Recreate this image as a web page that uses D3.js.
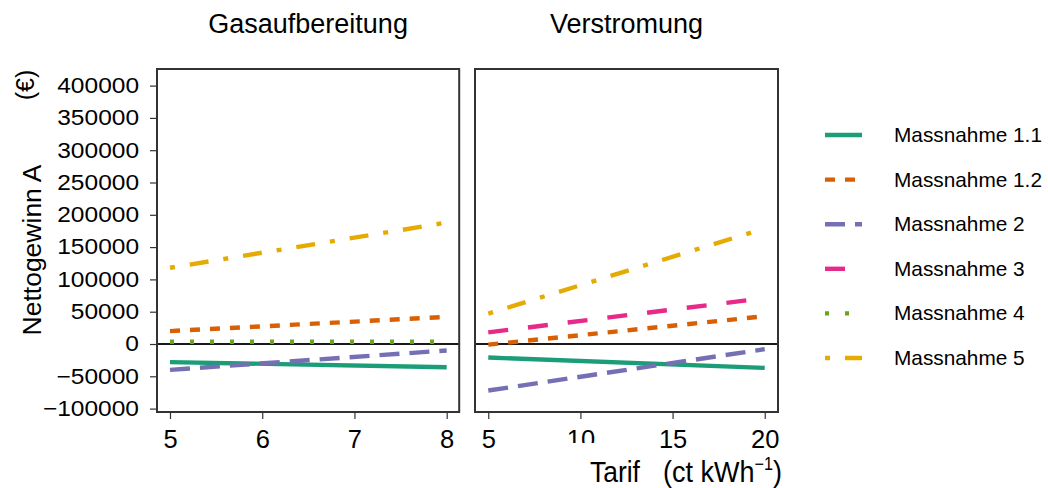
<!DOCTYPE html>
<html>
<head>
<meta charset="utf-8">
<script src="https://cdn.jsdelivr.net/npm/d3@7"></script>
<style>
  html, body { margin: 0; padding: 0; background: #fff; }
  svg text { font-family: "Liberation Sans", Arial, sans-serif; fill: #000; }
</style>
</head>
<body>
<svg id="chart" width="1048" height="488"></svg>
<script>
// ---- data ----
const seriesNames = ["Massnahme 1.1", "Massnahme 1.2", "Massnahme 2", "Massnahme 3", "Massnahme 4", "Massnahme 5"];
const seriesColors = ["#1B9E77", "#D95F02", "#7570B3", "#E7298A", "#66A61E", "#E6AB02"];
const seriesDash = ["", "10,10", "20,10", "20,20", "4,16", "5,15,19,15"];

const panelTitles = ["Gasaufbereitung", "Verstromung"];
const tarifGas = [5, 8];
const tarifStrom = [5, 20];
// Nettogewinn A (€) at the first and last tariff, per Massnahme (null = not shown)
const gasM11 = [-28000, -36000];
const gasM12 = [20000, 42000];
const gasM2 = [-40000, -10000];
const gasM3 = null;
const gasM4 = [3500, 3500];
const gasM5 = [118000, 188000];
const stromM11 = [-21000, -37000];
const stromM12 = [-1000, 43000];
const stromM2 = [-72000, -8000];
const stromM3 = [18000, 71000];
const stromM4 = null;
const stromM5 = [47000, 179000];

const yTicks = [-100000, -50000, 0, 50000, 100000, 150000, 200000, 250000, 300000, 350000, 400000];
const xTicksGas = [5, 6, 7, 8];
const xTicksStrom = [5, 10, 15, 20];

// ---- layout ----
const svg = d3.select("#chart");
const pTop = 69, pBottom = 412;
const y = d3.scaleLinear().domain([-104800, 425700]).range([411.7, 69]);

const panels = [
  { title: panelTitles[0], x: d3.scaleLinear().domain([4.859, 8.1356]).range([157, 459.2]),
    tarif: tarifGas, ticks: xTicksGas, values: [gasM11, gasM12, gasM2, gasM3, gasM4, gasM5] },
  { title: panelTitles[1], x: d3.scaleLinear().domain([4.28, 20.72]).range([475, 778]),
    tarif: tarifStrom, ticks: xTicksStrom, values: [stromM11, stromM12, stromM2, stromM3, stromM4, stromM5] }
];

panels.forEach((p, pi) => {
  const [x0, x1] = p.x.range();
  const g = svg.append("g");
  g.append("line").attr("x1", x0).attr("x2", x1).attr("y1", y(0)).attr("y2", y(0))
    .attr("stroke", "#1a1a1a").attr("stroke-width", 2.2);
  const line = d3.line().x(d => p.x(d[0])).y(d => y(d[1]));
  p.values.forEach((vals, si) => {
    if (!vals) return;
    const pts = p.tarif.map((t, i) => [t, vals[i]]);
    g.append("path").attr("d", line(pts)).attr("fill", "none")
      .attr("stroke", seriesColors[si]).attr("stroke-width", 4.4)
      .attr("stroke-dasharray", seriesDash[si] || null)
      .attr("stroke-linecap", "butt");
  });
  g.append("rect").attr("x", x0).attr("y", pTop).attr("width", x1 - x0).attr("height", pBottom - pTop)
    .attr("fill", "none").attr("stroke", "#333").attr("stroke-width", 2);
  const xa = svg.append("g").attr("transform", `translate(0,${pBottom})`)
    .call(d3.axisBottom(p.x).tickValues(p.ticks).tickSize(7).tickPadding(11).tickFormat(d3.format("d")));
  xa.select(".domain").remove();
  xa.selectAll(".tick line").attr("stroke", "#333").attr("stroke-width", 1.2);
  xa.selectAll("text").attr("font-size", 25.5).attr("fill", "#000");
  svg.append("text").attr("x", (x0 + x1) / 2).attr("y", 33).attr("text-anchor", "middle")
    .attr("font-size", 27).text(p.title);
});

const ya = svg.append("g").attr("transform", `translate(157,0)`)
  .call(d3.axisLeft(y).tickValues(yTicks).tickSize(7).tickPadding(11).tickFormat(d3.format("d")));
ya.select(".domain").remove();
ya.selectAll(".tick line").attr("stroke", "#333").attr("stroke-width", 1.2);
ya.selectAll("text").attr("font-size", 21.5).attr("fill", "#000")
  .attr("x", -18 / 1.14).attr("transform", "scale(1.14,1)");

svg.append("text").attr("transform", "translate(41,250) rotate(-90)").attr("text-anchor", "middle")
  .attr("font-size", 26.5).text("Nettogewinn A");
svg.append("text").attr("transform", "translate(34,85) rotate(-90)").attr("text-anchor", "middle")
  .attr("font-size", 25).text("(€)");

svg.append("rect").attr("x", 555).attr("y", 443).attr("width", 90).attr("height", 45).attr("fill", "#fff");
const xt = svg.append("g").attr("transform", "translate(590,482) scale(0.88,1)");
xt.append("text").attr("x", 0).attr("y", 0).attr("font-size", 30).text("Tarif");
const xt2 = svg.append("g").attr("transform", "translate(663,482) scale(0.9,1)");
const t2 = xt2.append("text").attr("x", 0).attr("y", 0).attr("font-size", 30);
t2.append("tspan").text("(ct kWh");
t2.append("tspan").attr("dy", -12).attr("font-size", 18).text("−1");
t2.append("tspan").attr("dy", 12).text(")");

const lg = svg.append("g");
seriesNames.forEach((name, i) => {
  const yy = 135 + i * 44.6;
  lg.append("line").attr("x1", 825).attr("x2", 862).attr("y1", yy).attr("y2", yy)
    .attr("stroke", seriesColors[i]).attr("stroke-width", 4.4)
    .attr("stroke-dasharray", seriesDash[i] || null);
  lg.append("text").attr("x", 894).attr("y", yy + 7).attr("font-size", 20.8).text(name);
});
</script>
</body>
</html>
